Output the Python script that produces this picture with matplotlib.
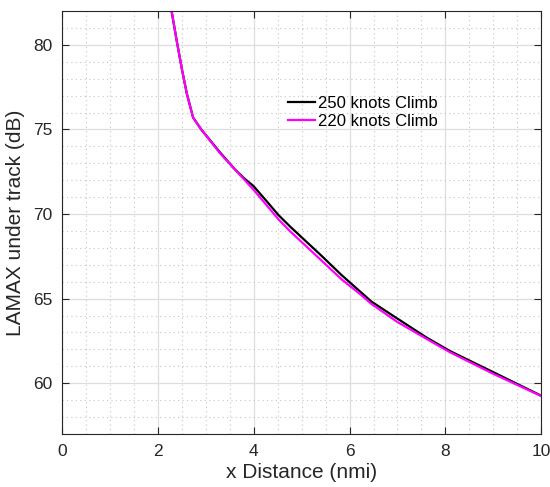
import matplotlib
matplotlib.use("Agg")
import matplotlib.pyplot as plt
from matplotlib.ticker import MultipleLocator

plt.rcParams['font.family'] = ['Liberation Sans', 'DejaVu Sans']

# Data
x_250 = [2.20, 2.28, 2.39, 2.50, 2.60, 2.73, 2.90, 3.29, 3.60, 3.80, 3.99, 4.30, 4.51,
         4.75, 5.00, 5.40, 5.83, 6.22, 6.46, 7.00, 7.61, 8.10, 9.00, 10.00]
y_250 = [83.3, 82.0, 80.2, 78.5, 77.1, 75.7, 75.0, 73.65, 72.65, 72.1, 71.66, 70.65, 69.95,
         69.28, 68.62, 67.57, 66.4, 65.42, 64.82, 63.82, 62.7, 61.9, 60.66, 59.27]

x_220 = [2.20, 2.28, 2.39, 2.50, 2.60, 2.73, 2.90, 3.29, 3.99, 4.51, 4.75, 5.30,
         5.83, 6.22, 6.46, 7.00, 7.61, 8.10, 9.00, 10.00]
y_220 = [83.3, 82.0, 80.2, 78.5, 77.1, 75.7, 75.0, 73.6, 71.45, 69.7, 69.0, 67.55,
         66.15, 65.27, 64.68, 63.62, 62.62, 61.83, 60.56, 59.25]

labels = ["250 knots Climb", "220 knots Climb"]
x_ticks = [0, 2, 4, 6, 8, 10]
y_ticks = [60, 65, 70, 75, 80]

fig = plt.figure(figsize=(5.5, 4.87), dpi=100)
ax = fig.add_axes([0.1136, 0.1088, 0.870, 0.8686])

ax.plot(x_250, y_250, color='black', lw=1.6, label=labels[0])
ax.plot(x_220, y_220, color='#ff00ff', lw=1.6, label=labels[1])

ax.set_xlim(0, 10)
ax.set_ylim(57, 82)
ax.set_xticks(x_ticks)
ax.set_yticks(y_ticks)
ax.xaxis.set_minor_locator(MultipleLocator(0.5))
ax.yaxis.set_minor_locator(MultipleLocator(1))

ax.grid(which='major', color='#dedede', lw=0.9, ls='-')
ax.grid(which='minor', color='#c4c4c4', lw=0.8, ls=(0, (1, 3)))
ax.set_axisbelow(True)

ax.tick_params(which='major', direction='in', length=5, width=0.8, color='#262626',
               top=True, right=True, labelsize=12.5, labelcolor='#262626', pad=7)
ax.tick_params(which='minor', length=0, top=False, right=False)
for s in ax.spines.values():
    s.set_color('#262626')
    s.set_linewidth(0.8)

ax.set_xlabel('x Distance (nmi)', fontsize=15, color='#262626', labelpad=3)
ax.set_ylabel('LAMAX under track (dB)', fontsize=15, color='#262626', labelpad=6)

leg = ax.legend(loc='center left', bbox_to_anchor=(0.471, 0.760), frameon=False,
                fontsize=12, handlelength=1.6, handletextpad=0.2, labelspacing=0.2,
                borderpad=0, borderaxespad=0)

fig.savefig('out.png', dpi=100)
